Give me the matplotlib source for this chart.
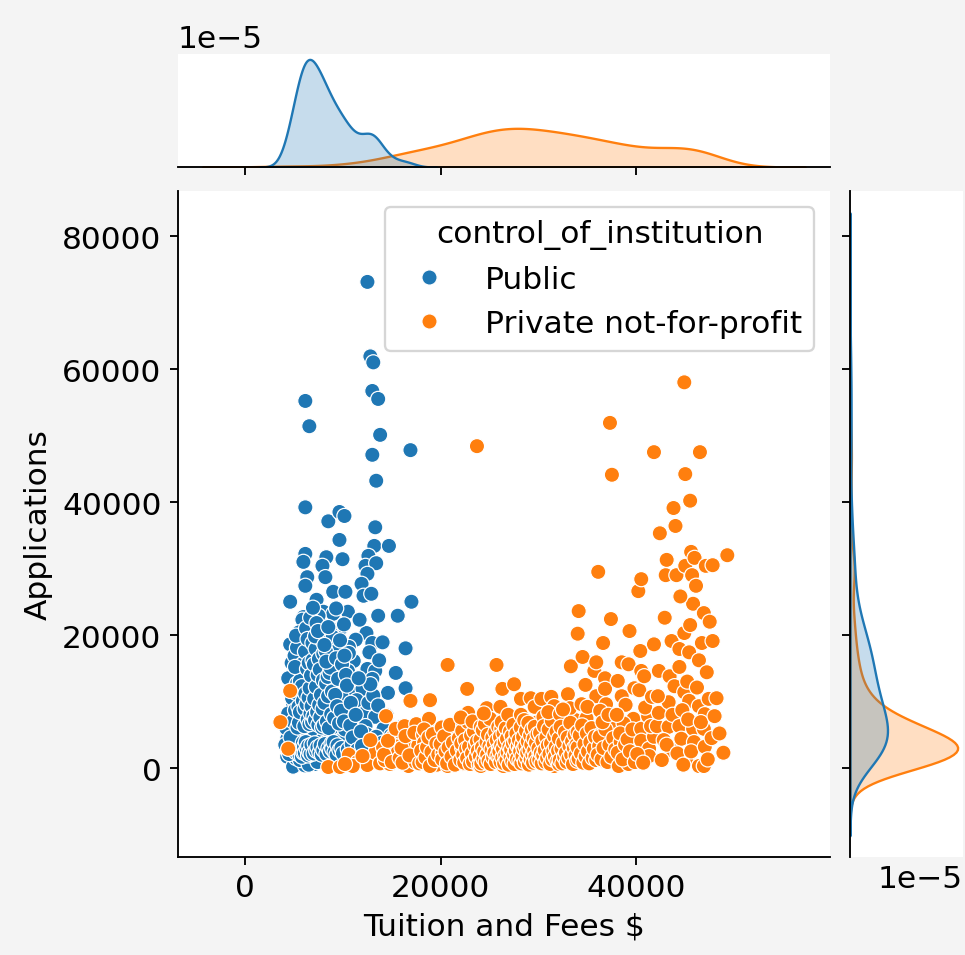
import matplotlib
matplotlib.use("Agg")
import matplotlib.pyplot as plt
from matplotlib.ticker import MultipleLocator
import pandas as pd
import seaborn as sns

# (tuition and fees $, applications)
public_points = [
    (12500, 73100), (12800, 61900), (13100, 61000), (6150, 55200), (6560, 51400), (13000, 56700),
    (13600, 55500), (13800, 50100), (16900, 47800), (13000, 47100), (13400, 43200), (6150, 39200),
    (8500, 37100), (9640, 38500), (10150, 37900), (13300, 36200), (9640, 34300), (13200, 33400),
    (14700, 33400), (6150, 32200), (5950, 31000), (8300, 31700), (9950, 31400), (7900, 30400),
    (12600, 31900), (12300, 30400), (13400, 30800), (6350, 28700), (8200, 28700), (6150, 27400),
    (12500, 29200), (11900, 27700), (4600, 25000), (7300, 25300), (9000, 26500), (10250, 26500),
    (12100, 25900), (12900, 26200), (17000, 25000), (5950, 22700), (8000, 23500), (9000, 23200),
    (10500, 23500), (13600, 22900), (15600, 22900),
    (5850, 22300), (7900, 21400), (9750, 21000), (12400, 20300), (5950, 20500), (6150, 19100),
    (7400, 19300), (8600, 19100), (11300, 19300), (13000, 18800), (14050, 18900), (16400, 18000),
    (10600, 18200), (9400, 18000), (5850, 17100), (7000, 16400), (8400, 17000), (9750, 16100),
    (11100, 16100), (12500, 14900), (13300, 14600), (13000, 13400), (15400, 14300), (7400, 15300),
    (8700, 13700), (10500, 14600), (5850, 12900), (6900, 12200), (8400, 11700), (9750, 12300),
    (10800, 11900), (12000, 11900), (16400, 12000), (14600, 11300), (5600, 10800), (7400, 10300),
    (4900, 9500), (5950, 9300), (8000, 10000), (9200, 9200), (10800, 8900), (11800, 8900),
    (6500, 8100), (7700, 7800), (6300, 7100), (8700, 7100), (10900, 7400), (12000, 8100),
    (13300, 7700), (5600, 6300), (7400, 6200), (9750, 6300), (12300, 6300), (14150, 5900),
    (4600, 4800), (5950, 5100), (7500, 4800), (9000, 4800), (10800, 4800), (12400, 5100),
    (13400, 4700), (4300, 4400), (5600, 3300), (8700, 3300), (7700, 2900), (10000, 3200),
    (11800, 2900), (13100, 3300), (4300, 1700), (5400, 600), (6600, 1400), (8000, 1800),
    (9400, 1700), (10500, 900), (12000, 1100), (14150, 2300), (4900, 200),
    (5200, 1500), (5500, 2500), (5800, 4000), (6000, 5500), (6200, 2000), (6400, 3600),
    (6500, 6000), (6700, 1000), (6800, 4500), (6900, 2600), (7000, 9000), (7100, 5300),
    (7200, 1800), (7300, 3900), (6600, 11000), (6300, 13800), (6100, 15600), (6800, 14500),
    (7200, 12800), (5400, 8000), (5700, 11800), (6000, 7200), (5300, 5200), (5100, 3100),
    (6400, 9900), (6700, 17800), (7600, 13300), (7800, 8800), (8200, 5700), (8500, 2300),
    (8900, 6100), (9600, 4000), (10200, 5800), (11000, 2500), (7100, 600), (6100, 400),
    (5600, 1200), (4700, 2500), (4500, 6400), (5000, 12000), (5200, 14400), (5500, 16600),
    (6200, 18200), (6900, 20100), (7600, 18000), (8100, 15400), (9100, 14300), (9900, 10600),
    (11400, 10200), (12600, 9800), (13100, 10900), (12800, 12600), (13600, 9400), (14000, 3800),
    (12800, 1500), (13500, 1000), (11300, 3900), (10600, 7500), (9500, 8000), (8400, 8900),
    (7900, 10900), (6700, 7600), (6000, 9900), (5300, 10400), (6500, 12600), (7300, 16700),
    (8800, 20200), (10100, 21600), (11700, 22300), (12700, 17400), (13700, 16200), (14500, 7900),
    (14900, 4900), (15200, 1200), (16000, 6200), (4800, 7800), (5800, 14000), (7500, 22900),
    (9300, 24000), (5500, 3800), (6300, 4400), (6600, 2700), (7000, 3400), (7500, 2400),
    (7800, 5600), (8300, 3900), (6200, 6800), (5900, 2800), (6900, 5900), (7700, 7000),
    (5700, 5800), (5100, 6900), (6500, 500), (7400, 900),
    # dense core of the public cluster
    (4100, 3500), (4200, 6000), (4400, 8200), (4500, 2100), (4600, 18600), (4750, 15800),
    (4800, 10500), (4900, 7000), (4950, 2800), (4400, 13500), (4650, 4600),
    (5050, 16900), (5100, 8700), (5150, 2400), (5200, 11300), (5300, 12700), (5350, 6100),
    (5450, 9200), (5500, 20400), (5550, 2000), (5600, 13100), (5700, 3000), (5750, 7400),
    (5800, 1700), (5850, 15600), (5900, 10100), (5950, 2300), (5100, 15200), (5300, 18100),
    (5500, 6800), (5900, 3800), (5200, 19900), (5600, 8400), (5800, 12300),
    (6020, 3200), (6050, 6300), (6080, 8900), (6100, 2300), (6120, 17500), (6150, 11200),
    (6200, 3900), (6230, 21000), (6280, 9600), (6300, 2900), (6330, 14900), (6380, 19400),
    (6400, 7300), (6430, 1900), (6450, 3300), (6480, 10600), (6500, 15800), (6550, 2400),
    (6580, 6600), (6600, 12000), (6650, 22600), (6680, 8200), (6700, 2100), (6730, 13900),
    (6780, 3500), (6800, 9300), (6850, 6900), (6880, 18800), (6900, 16200), (6930, 24100),
    (6980, 7800),
    (7000, 2200), (7030, 15600), (7060, 10400), (7120, 3700), (7150, 7200), (7210, 17900),
    (7240, 12200), (7270, 2600), (7300, 21800), (7360, 8400), (7390, 3100), (7420, 14000),
    (7480, 6500), (7540, 16400), (7570, 9500), (7600, 2300), (7630, 14800), (7690, 7600),
    (7720, 3400), (7750, 11000), (7810, 19300), (7840, 2000), (7870, 6100), (7930, 8900),
    (7960, 13200), (7990, 17200), (7150, 19800), (7450, 20600),
    (8000, 2700), (8040, 6400), (8120, 9800), (8160, 3600), (8240, 17600), (8280, 12700),
    (8320, 2100), (8360, 7000), (8440, 13700), (8480, 10800), (8520, 3000), (8560, 6000),
    (8640, 14300), (8680, 2500), (8720, 15100), (8800, 8100), (8840, 3700), (8880, 11500),
    (8960, 19700), (8100, 18500), (8300, 16000), (8500, 21200), (8900, 2900),
    (9050, 3900), (9100, 7500), (9150, 2400), (9200, 11000), (9300, 16500), (9350, 2000),
    (9400, 9300), (9450, 3400), (9500, 13400), (9600, 6700), (9650, 2700), (9700, 19200),
    (9800, 8600), (9850, 3000), (9900, 15600),
    (10000, 2200), (10100, 7000), (10300, 14000), (10400, 12400), (10500, 2800), (10600, 17300),
    (10800, 9800), (10900, 3600), (10150, 16900), (10750, 6400),
    (11000, 4600), (11300, 8000), (11450, 2700), (11600, 13500), (11850, 5500), (11950, 3300),
]

private_points = [
    (3600, 6900), (4400, 2900), (4600, 11600), (8500, 150), (9700, 150), (10600, 2000),
    (11500, 900), (12500, 450), (13300, 2300), (11000, 300), (12000, 1800), (13800, 700),
    (10200, 600), (14100, 3100), (12800, 4200),
    (14400, 7800), (15100, 4700), (15200, 1800), (15700, 3300), (14800, 600), (15500, 2600),
    (14300, 1200), (15900, 5400), (15600, 2400),
    (14200, 2000), (14600, 4100), (15000, 900), (15400, 5900), (15800, 1500),
    (16300, 6300), (16700, 300), (16900, 10100), (17200, 2400), (17500, 6600), (16500, 1500),
    (17000, 4100), (17700, 3400), (16100, 800), (17400, 900),
    (16000, 3000), (16400, 4800), (16800, 1900), (17300, 5300), (17800, 700),
    (18200, 5000), (18700, 1100), (18900, 10200), (19300, 3300), (18500, 2000), (19000, 6000),
    (19600, 500), (19800, 4200), (18300, 3800), (19100, 1600), (18800, 7400),
    (18000, 2600), (18150, 900), (18300, 5800), (18450, 1600), (18600, 3100), (18750, 4600),
    (18900, 300), (19050, 2400), (19200, 5100), (19400, 1200), (19550, 3700), (19750, 2000),
    (20700, 15500), (20700, 5400), (20700, 300), (21700, 6800), (21800, 3300), (20200, 2300),
    (20500, 1000), (21000, 4100), (21300, 2000), (21500, 800), (20100, 6100), (21900, 1500),
    (20000, 3600), (20150, 1300), (20350, 4800), (20500, 2500), (20650, 700), (20800, 3100),
    (20950, 6500), (21100, 1700), (21250, 3800), (21450, 500), (21650, 2600), (21850, 4500),
    (22700, 11900), (22800, 8300), (22800, 5000), (23100, 1800), (23700, 48400), (22200, 3000),
    (22500, 600), (23400, 3600), (23800, 900), (22300, 6400), (23500, 2400), (23000, 4500),
    (23900, 7100), (23900, 3900),
    (22000, 1200), (22100, 3700), (22200, 5600), (22300, 2000), (22400, 800), (22500, 4200),
    (22600, 2900), (22700, 1500), (22800, 6900), (22900, 3200), (23000, 600), (23100, 4900),
    (23200, 2200), (23300, 1000), (23400, 5500), (23500, 3400), (23600, 1700), (23700, 4000),
    (23800, 2600), (23900, 500), (22050, 7600), (23250, 7000),
    (24100, 6200), (24100, 300), (25100, 2400), (25100, 5300), (25700, 15500), (24500, 1300),
    (24800, 4100), (25400, 800), (25800, 3400), (24300, 2800), (25600, 6800), (24700, 9000),
    (25300, 1800),
    (24000, 1800), (24070, 4300), (24150, 700), (24220, 3100), (24300, 5700), (24380, 1400),
    (24450, 2500), (24520, 6600), (24600, 900), (24680, 3900), (24750, 2000), (24830, 5000),
    (24900, 1100), (24980, 3300), (25050, 7400), (25120, 600), (25200, 2800), (25280, 4600),
    (25350, 1600), (25430, 3600), (25500, 2300), (25580, 5400), (25650, 900), (25730, 4200),
    (25800, 1900), (25880, 6200), (25950, 2900), (24400, 8200),
    (26200, 5900), (26300, 11900), (26400, 300), (27500, 12600), (27500, 4800), (27500, 2100),
    (26000, 1500), (26600, 3700), (26900, 2600), (27200, 800), (27800, 6300), (26700, 7400),
    (27100, 4300), (26100, 9200),
    (26000, 2500), (26060, 4700), (26120, 900), (26180, 3400), (26240, 6900), (26300, 1600),
    (26360, 2900), (26420, 5200), (26480, 700), (26540, 3900), (26600, 1900), (26660, 6000),
    (26720, 1200), (26780, 4400), (26840, 2400), (26900, 8000), (26960, 500), (27020, 3200),
    (27080, 5500), (27140, 1700), (27200, 2800), (27260, 4800), (27320, 1000), (27380, 3700),
    (27440, 6500), (27500, 2000), (27560, 600), (27620, 4100), (27680, 2600), (27740, 5200),
    (27800, 1400), (27880, 3300),
    (28200, 10400), (28200, 8000), (28900, 5600), (28900, 600), (29200, 10500), (29600, 9200),
    (29900, 3300), (28500, 1700), (28700, 3900), (29400, 2500), (29700, 6800), (28100, 2800),
    (29100, 1100), (28400, 5000),
    (28000, 4200), (28060, 1100), (28120, 2500), (28180, 6100), (28240, 700), (28300, 3600),
    (28360, 1800), (28420, 4700), (28480, 2900), (28540, 7200), (28600, 900), (28660, 3300),
    (28720, 5600), (28780, 1500), (28840, 2300), (28900, 4000), (28960, 6800), (29020, 500),
    (29080, 2700), (29140, 4900), (29200, 1300), (29260, 3500), (29320, 5800), (29380, 2000),
    (29440, 800), (29500, 4400), (29560, 2600), (29620, 6200), (29680, 1700), (29740, 3800),
    (29800, 1000), (29900, 5100),
    (30300, 10400), (30300, 4800), (31300, 10700), (31300, 5400), (31300, 1400), (31600, 9300),
    (31600, 300), (30100, 2300), (30600, 1500), (30800, 3600), (31000, 6600), (31900, 2800),
    (30500, 7700), (31700, 4300),
    (30000, 3000), (30080, 1200), (30160, 5300), (30240, 2300), (30320, 700), (30400, 4100),
    (30480, 1900), (30560, 6300), (30640, 2700), (30720, 900), (30800, 4600), (30880, 1500),
    (30960, 3400), (31040, 5800), (31120, 2100), (31200, 600), (31280, 3700), (31360, 7100),
    (31440, 1300), (31520, 2600), (31600, 4800), (31680, 1700), (31760, 3200), (31840, 5500),
    (31920, 1000), (31000, 8400),
    (32600, 5100), (32600, 3200), (33000, 11100), (33300, 15300), (33600, 1100), (33000, 6200),
    (32200, 8100), (32400, 2000), (32900, 4000), (33500, 2600), (33800, 7200), (32100, 600),
    (33200, 9000),
    (32000, 2600), (32080, 4400), (32170, 1200), (32260, 6200), (32350, 2900), (32440, 700),
    (32530, 3800), (32620, 1700), (32710, 5400), (32800, 2300), (32890, 900), (32980, 4600),
    (33070, 1500), (33160, 3300), (33250, 6800), (33340, 2000), (33430, 4000), (33520, 600),
    (33610, 3000), (33700, 5000), (33790, 1900), (33880, 3500), (33960, 1100), (32500, 8800),
    (34000, 20200), (34000, 5400), (34400, 9600), (34500, 16700), (34700, 2400), (34100, 23600),
    (34900, 7500), (35100, 5900), (35700, 3600), (35700, 14600), (35900, 10800), (35900, 15900),
    (34300, 1200), (35300, 4300), (35500, 1800), (34800, 12500),
    (34000, 3100), (34100, 1400), (34220, 4900), (34340, 2200), (34460, 6400), (34580, 800),
    (34700, 3600), (34820, 1700), (34940, 5200), (35060, 2500), (35180, 700), (35300, 3900),
    (35420, 6000), (35540, 1500), (35660, 2900), (35780, 4700), (35900, 1200), (35000, 9200),
    (36100, 29500), (36400, 5100), (36600, 18800), (36600, 7400), (36600, 1100), (36800, 13500),
    (36900, 9600), (37300, 51900), (37400, 22400), (37500, 44100), (37700, 6200), (37700, 2600),
    (36200, 3300), (37000, 4400), (36300, 8600), (37900, 1700), (36800, 11900),
    (36050, 2000), (36250, 4700), (36450, 1300), (36650, 3000), (36850, 5800), (37050, 900),
    (37250, 3500), (37450, 1700), (37650, 4500), (37850, 2800), (36550, 6900), (37150, 8000),
    (38100, 13100), (38200, 300), (38500, 15900), (38500, 10800), (38900, 9500), (39000, 1800),
    (39200, 15600), (39200, 5400), (39200, 600), (39300, 20600), (39700, 7400), (38400, 3900),
    (38700, 6700), (39500, 3100), (38000, 8000), (39800, 12000),
    (38100, 2300), (38350, 5200), (38600, 1300), (38850, 3500), (39100, 4300), (39350, 2500),
    (39600, 5800), (39850, 900),
    (40200, 26600), (40300, 11700), (40400, 17600), (40500, 28400), (40500, 14600), (40500, 5900),
    (40500, 4100), (40800, 13800), (41200, 7800), (41300, 2900), (41300, 1800), (41800, 47500),
    (41800, 18600), (41800, 4700), (40100, 2100), (40900, 9100), (41500, 6300), (40700, 800),
    (41600, 10700),
    (42100, 6300), (42300, 14600), (42300, 8300), (42400, 35300), (43000, 29000), (43100, 31300),
    (43300, 9900), (43300, 6200), (43400, 13800), (43600, 19100), (43600, 2700), (43800, 39100),
    (43900, 12300), (42600, 1200), (42800, 4200), (43100, 3500), (42200, 10800), (43700, 8000),
    (42900, 22600),
    (44000, 36400), (44100, 29000), (44400, 15200), (44400, 17900), (44400, 6300), (44600, 4400),
    (44900, 58000), (44900, 20300), (44900, 11400), (45000, 44200), (45000, 30400), (45100, 1400),
    (45400, 17400), (45400, 10100), (45500, 40200), (45500, 21500), (45600, 32500), (45700, 29000),
    (45800, 24700), (45800, 5900), (45900, 3900), (45950, 31600), (44200, 2200), (44700, 8700),
    (45300, 7300), (44500, 25800), (45200, 13000), (44800, 500), (45600, 2500),
    (46400, 16200), (46400, 9300), (46400, 300), (46500, 47500), (46700, 18800), (46900, 23300),
    (46900, 5900), (46900, 300), (47000, 8100), (47000, 3200), (47100, 30400), (47400, 10400),
    (47500, 22000), (47800, 30500), (47800, 19100), (46200, 12100), (46600, 6900), (47300, 1300),
    (47700, 4500), (46100, 27400), (47200, 14400),
    (48000, 7800), (48900, 2300), (49300, 32000), (48200, 10500), (48500, 5200),
]

groups = ["Public", "Private not-for-profit"]

W, H, DPI = 965, 956, 169
plt.rcParams["font.size"] = 13.3

rows = [(x, y, groups[0]) for x, y in public_points] + \
       [(x, y, groups[1]) for x, y in private_points]
df = pd.DataFrame(rows, columns=["Tuition and Fees $", "Applications", "control_of_institution"])

g = sns.jointplot(data=df, x="Tuition and Fees $", y="Applications",
                  hue="control_of_institution", hue_order=groups, s=42)
fig = g.figure
fig.set_size_inches(W / DPI, H / DPI)
fig.patch.set_facecolor("#f4f4f4")

# place the three axes like the reference (pixel boxes -> figure fractions)
def box(x0, y0, x1, y1):
    return [x0 / W, (H - y1) / H, (x1 - x0) / W, (y1 - y0) / H]

g.ax_joint.set_position(box(178, 192, 830, 858))
g.ax_marg_x.set_position(box(178, 55, 830, 168))
g.ax_marg_y.set_position(box(850, 192, 963, 858))

g.ax_joint.set_xlim(-6870, 59800)
g.ax_joint.set_ylim(-13380, 86770)
g.ax_joint.xaxis.set_major_locator(MultipleLocator(20000))
g.ax_joint.yaxis.set_major_locator(MultipleLocator(20000))

for ax in (g.ax_joint, g.ax_marg_x, g.ax_marg_y):
    ax.set_facecolor("white")

g.ax_marg_x.yaxis.get_offset_text().set_visible(True)
g.ax_marg_y.xaxis.get_offset_text().set_visible(True)

sns.move_legend(g.ax_joint, "upper right", title="control_of_institution")

fig.savefig("out.png", dpi=DPI, facecolor=fig.get_facecolor())
